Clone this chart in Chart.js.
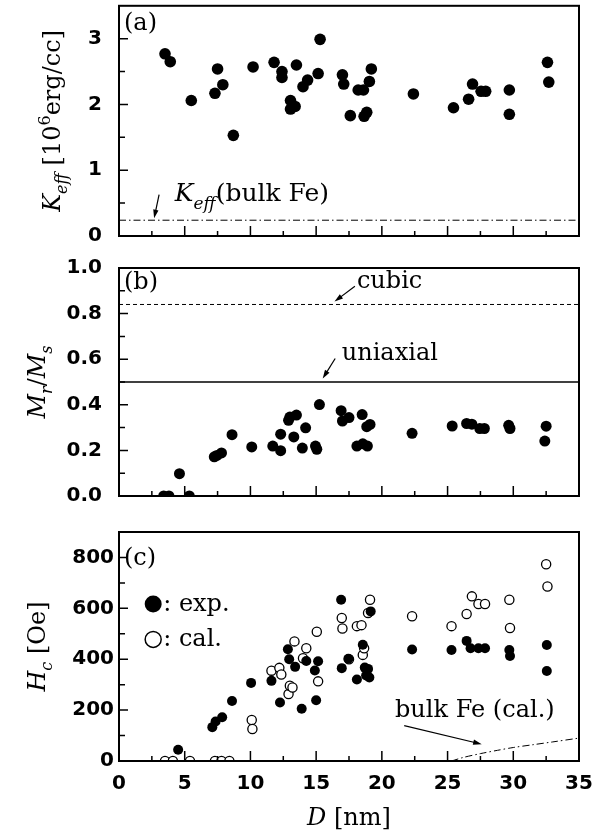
<!DOCTYPE html>
<html>
<head>
<meta charset="utf-8">
<script src="https://cdn.jsdelivr.net/npm/chart.js@4.4.1/dist/chart.umd.min.js"></script>
<style>
  html, body { margin: 0; padding: 0; background: #fff; }
  body { position: relative; width: 603px; height: 833px; overflow: hidden; }
  canvas { position: absolute; left: 0; display: block; }
</style>
</head>
<body>
<canvas id="chartA" width="603" height="250" style="top:0px;width:603px;height:250px"></canvas>
<canvas id="chartB" width="603" height="250" style="top:255px;width:603px;height:250px"></canvas>
<canvas id="chartC" width="603" height="313" style="top:520px;width:603px;height:313px"></canvas>
<script>
// particle size D [nm] shared x axis
const xTicks = [0, 5, 10, 15, 20, 25, 30, 35];

// (a) effective anisotropy
const sizeA = [3.5, 3.9, 5.5, 7.3, 7.5, 7.9, 8.7, 10.2, 11.8, 12.4, 12.4, 13.05, 13.05, 13.4, 13.5, 14.0, 14.35, 15.15, 15.3,
  17.0, 17.1, 17.6, 18.2, 18.6, 18.65, 18.85, 19.05, 19.2, 22.4, 25.45, 26.6, 26.9, 27.55, 27.9, 29.7, 29.7, 32.6, 32.7];
const keff = [2.77, 2.65, 2.06, 2.17, 2.54, 2.30, 1.53, 2.57, 2.64, 2.50, 2.41, 2.06, 1.93, 1.97, 2.60, 2.27, 2.37, 2.47, 2.99,
  2.45, 2.31, 1.83, 2.22, 2.22, 1.82, 1.88, 2.35, 2.54, 2.16, 1.95, 2.08, 2.31, 2.20, 2.20, 2.22, 1.85, 2.64, 2.34];
const keffBulk = 0.24;
const yTicksA = [0, 1, 2, 3];

// (b) remanence ratio
const sizeB = [3.4, 3.8, 4.6, 5.35, 7.25, 7.45, 7.8, 8.6, 10.1, 11.7, 12.3, 12.3, 12.9, 13.0, 13.5, 13.3, 13.95, 14.2, 14.95, 15.05, 15.25,
  16.9, 17.0, 17.5, 18.5, 18.1, 18.55, 18.9, 18.85, 19.1, 22.3, 25.35, 26.45, 26.85, 27.45, 27.8, 29.65, 29.75, 32.5, 32.4];
const mrms = [0, 0, 0.098, 0, 0.172, 0.178, 0.189, 0.269, 0.215, 0.219, 0.199, 0.271, 0.332, 0.346, 0.355, 0.259, 0.210, 0.299, 0.219, 0.205, 0.401,
  0.374, 0.329, 0.344, 0.357, 0.219, 0.229, 0.219, 0.304, 0.314, 0.275, 0.307, 0.318, 0.315, 0.296, 0.296, 0.310, 0.296, 0.306, 0.241];
const cubicRatio = 0.84;
const uniaxialRatio = 0.5;
const yTicksB = [0, 0.2, 0.4, 0.6, 0.8, 1.0];

// (c) coercivity, experiment and calculation
const sizeExp = [4.5, 7.1, 7.35, 7.85, 8.6, 10.05, 11.6, 12.25, 12.85, 12.95, 13.4, 13.9, 14.25, 14.9, 15.15, 15.0, 16.9, 16.95,
  17.45, 18.1, 18.55, 18.7, 18.8, 18.95, 19.05, 19.15, 22.3, 25.3, 26.45, 26.75, 27.35, 27.85, 29.7, 29.75, 32.55, 32.55];
const hcExp = [44, 133, 155, 172, 236, 307, 315, 230, 439, 400, 370, 205, 393, 356, 392, 239, 634, 365,
  402, 320, 457, 367, 336, 362, 328, 588, 438, 436, 472, 443, 443, 443, 436, 413, 456, 354];
const sizeCal = [3.5, 4.1, 5.4, 7.3, 7.8, 8.4, 10.1, 10.15, 11.6, 12.2, 12.35, 12.9, 13.0, 13.2, 13.35, 14.0, 14.25, 15.05, 15.15,
  16.95, 17.0, 17.5, 18.1, 18.45, 18.55, 18.65, 18.95, 19.1, 22.3, 25.3, 26.45, 26.85, 27.35, 27.85, 29.7, 29.75, 32.5, 32.6];
const hcCal = [0, 0, 0, 0, 0, 0, 161, 126, 355, 366, 340, 263, 296, 289, 470, 404, 443, 508, 313,
  562, 521, 400, 530, 534, 417, 443, 582, 634, 569, 530, 578, 647, 617, 617, 634, 523, 773, 686];
const sizeBulkFe = [25.3, 26.2, 27.5, 28.8, 30.0, 31.5, 33.0, 35.0];
const hcBulkFe = [0, 14, 29, 42, 53, 64, 75, 90];
const yTicksC = [0, 200, 400, 600, 800];

const tickFont = { family: '"DejaVu Sans", sans-serif', size: 20, weight: 'bold' };
const SERIF = '"DejaVu Serif", serif';

function points(xs, ys) {
  return xs.map((x, i) => ({ x: x, y: ys[i] }));
}

// draws a run of text pieces; italic / subscript / superscript per piece
function richText(ctx, parts, x, y, size, center) {
  let w = 0;
  const info = parts.map((p) => {
    const s = p.sub || p.sup ? Math.round(size * 0.68) : size;
    const font = (p.it ? "italic " : "") + s + "px " + SERIF;
    ctx.font = font;
    const pw = ctx.measureText(p.t).width;
    w += pw;
    return { font, pw, dy: p.sub ? size * 0.3 : p.sup ? -size * 0.42 : 0 };
  });
  let cx = center ? x - w / 2 : x;
  ctx.textAlign = "left";
  ctx.textBaseline = "alphabetic";
  parts.forEach((p, i) => {
    ctx.font = info[i].font;
    ctx.fillText(p.t, cx, y + info[i].dy);
    cx += info[i].pw;
  });
}

function arrow(ctx, x1, y1, x2, y2) {
  const ang = Math.atan2(y2 - y1, x2 - x1);
  const h = 9;
  ctx.beginPath();
  ctx.moveTo(x1, y1);
  ctx.lineTo(x2 - 4 * Math.cos(ang), y2 - 4 * Math.sin(ang));
  ctx.stroke();
  ctx.beginPath();
  ctx.moveTo(x2, y2);
  ctx.lineTo(x2 - h * Math.cos(ang - 0.3), y2 - h * Math.sin(ang - 0.3));
  ctx.lineTo(x2 - h * Math.cos(ang + 0.3), y2 - h * Math.sin(ang + 0.3));
  ctx.closePath();
  ctx.fill();
}

function yTitle(ctx, parts, bx, cy) {
  ctx.save();
  ctx.translate(bx, cy);
  ctx.rotate(-Math.PI / 2);
  richText(ctx, parts, 0, 0, 24, true);
  ctx.restore();
}

// box and inward tick marks
const frame = {
  id: "frame",
  afterDraw(chart, args, opts) {
    const { ctx, chartArea: a, scales: { x, y } } = chart;
    ctx.save();
    ctx.strokeStyle = "#000";
    ctx.lineWidth = 1.5;
    ctx.beginPath();
    for (let v = 2.5; v < 35; v += 2.5) {
      const px = x.getPixelForValue(v);
      const len = v % 5 === 0 ? 10 : 5;
      ctx.moveTo(px, a.bottom);
      ctx.lineTo(px, a.bottom - len);
    }
    for (let k = 1; k * opts.minor < y.max - 1e-9; k++) {
      const v = k * opts.minor;
      const py = y.getPixelForValue(v);
      const major = Math.abs(v / opts.major - Math.round(v / opts.major)) < 1e-6;
      ctx.moveTo(a.left, py);
      ctx.lineTo(a.left + (major ? 9 : 6), py);
    }
    ctx.stroke();
    ctx.lineWidth = 2;
    ctx.strokeRect(a.left, a.top, a.right - a.left, a.bottom - a.top);
    ctx.restore();
  },
};

function yScale(min, max, ticks, fmt, pad) {
  return {
    type: "linear",
    min: min,
    max: max,
    afterBuildTicks: (s) => { s.ticks = ticks.map((v) => ({ value: v })); },
    afterFit: (s) => {
      s.width = 119;
      s.paddingTop = 0; s.paddingBottom = 0; s.paddingLeft = 0; s.paddingRight = 0;
    },
    grid: { display: false, drawTicks: false },
    border: { display: false },
    ticks: { font: tickFont, color: "#000", padding: pad, autoSkip: false, callback: fmt },
  };
}

function xScale(show) {
  return {
    type: "linear",
    min: 0,
    max: 35,
    display: show,
    afterBuildTicks: (s) => { s.ticks = xTicks.map((v) => ({ value: v })); },
    afterFit: (s) => {
      s.height = show ? 72 : 0;
      s.paddingTop = 0; s.paddingBottom = 0; s.paddingLeft = 0; s.paddingRight = 0;
    },
    grid: { display: false, drawTicks: false },
    border: { display: false },
    ticks: { font: tickFont, color: "#000", padding: 11, autoSkip: false, maxRotation: 0 },
  };
}

function baseOptions(pad, yOpts, showX, minor, major) {
  return {
    responsive: false,
    animation: false,
    devicePixelRatio: 1,
    layout: { padding: pad },
    scales: { x: xScale(showX), y: yOpts },
    plugins: { legend: { display: false }, tooltip: { enabled: false }, frame: { minor: minor, major: major } },
  };
}

function flatLine(value, dash, width) {
  return {
    type: "line",
    data: [{ x: 0, y: value }, { x: 35, y: value }],
    borderColor: "#000",
    borderWidth: width,
    borderDash: dash,
    pointRadius: 0,
    showLine: true,
    clip: 0,
  };
}

// panel (a)
new Chart(document.getElementById("chartA"), {
  type: "scatter",
  data: {
    datasets: [
      flatLine(keffBulk, [7, 3, 1.5, 3], 1),
      { data: points(sizeA, keff), pointRadius: 5.8, pointBackgroundColor: "#000", pointBorderWidth: 0, clip: 0 },
    ],
  },
  options: baseOptions({ left: 0, right: 24, top: 5, bottom: 14 },
    yScale(0, 3.5, yTicksA, (v) => String(v), 17), false, 0.5, 1),
  plugins: [frame, {
    id: "textA",
    afterDraw(chart) {
      const { ctx, chartArea: a, scales: { x, y } } = chart;
      ctx.save();
      ctx.fillStyle = "#000";
      ctx.strokeStyle = "#000";
      ctx.lineWidth = 1.2;
      richText(ctx, [{ t: "(a)" }], a.left + 5, a.top + 24, 24);
      richText(ctx, [{ t: "K", it: true }, { t: "eff", it: true, sub: true }, { t: "(bulk Fe)" }],
        x.getPixelForValue(4.25), y.getPixelForValue(0.53), 25);
      arrow(ctx, x.getPixelForValue(3.05), y.getPixelForValue(0.63), x.getPixelForValue(2.67), y.getPixelForValue(keffBulk + 0.03));
      yTitle(ctx, [{ t: "K", it: true }, { t: "eff", it: true, sub: true }, { t: " [10" }, { t: "6", sup: true }, { t: "erg/cc]" }],
        60, (a.top + a.bottom) / 2);
      ctx.restore();
    },
  }],
});

// panel (b)
new Chart(document.getElementById("chartB"), {
  type: "scatter",
  data: {
    datasets: [
      flatLine(cubicRatio, [4, 3], 1),
      flatLine(uniaxialRatio, [], 1.3),
      { data: points(sizeB, mrms), pointRadius: 5.5, pointBackgroundColor: "#000", pointBorderWidth: 0, clip: 0 },
    ],
  },
  options: baseOptions({ left: 0, right: 24, top: 13, bottom: 9 },
    yScale(0, 1.0, yTicksB, (v) => v.toFixed(1), 17), false, 0.1, 0.2),
  plugins: [frame, {
    id: "textB",
    afterDraw(chart) {
      const { ctx, chartArea: a, scales: { x, y } } = chart;
      ctx.save();
      ctx.fillStyle = "#000";
      ctx.strokeStyle = "#000";
      ctx.lineWidth = 1.2;
      richText(ctx, [{ t: "(b)" }], a.left + 5, a.top + 21, 24);
      richText(ctx, [{ t: "cubic" }], x.getPixelForValue(18.1), y.getPixelForValue(0.912), 24);
      arrow(ctx, x.getPixelForValue(17.95), y.getPixelForValue(0.92), x.getPixelForValue(16.4), y.getPixelForValue(0.853));
      richText(ctx, [{ t: "uniaxial" }], x.getPixelForValue(16.95), y.getPixelForValue(0.595), 24);
      arrow(ctx, x.getPixelForValue(16.45), y.getPixelForValue(0.603), x.getPixelForValue(15.5), y.getPixelForValue(0.515));
      yTitle(ctx, [{ t: "M", it: true }, { t: "r", it: true, sub: true }, { t: "/" }, { t: "M", it: true }, { t: "s", it: true, sub: true }],
        45, (a.top + a.bottom) / 2);
      ctx.restore();
    },
  }],
});

// panel (c)
new Chart(document.getElementById("chartC"), {
  type: "scatter",
  data: {
    datasets: [
      {
        type: "line",
        data: points(sizeBulkFe, hcBulkFe),
        borderColor: "#000",
        borderWidth: 1,
        borderDash: [7, 3, 1.5, 3],
        pointRadius: 0,
        showLine: true,
        tension: 0.3,
        clip: 0,
      },
      { data: points(sizeExp, hcExp), pointRadius: 5, pointBackgroundColor: "#000", pointBorderWidth: 0, clip: 0 },
      { data: points(sizeCal, hcCal), pointRadius: 4.6, pointBackgroundColor: "#fff", pointBorderColor: "#000", pointBorderWidth: 1.3, clip: 0 },
    ],
  },
  options: baseOptions({ left: 0, right: 24, top: 12, bottom: 0 },
    yScale(0, 900, yTicksC, (v) => String(v), 5), true, 100, 200),
  plugins: [frame, {
    id: "textC",
    afterDraw(chart) {
      const { ctx, chartArea: a, scales: { x, y } } = chart;
      ctx.save();
      ctx.fillStyle = "#000";
      ctx.strokeStyle = "#000";
      ctx.lineWidth = 1.2;
      richText(ctx, [{ t: "(c)" }], a.left + 5, a.top + 33, 24);
      // legend
      const lx = x.getPixelForValue(2.6);
      ctx.beginPath();
      ctx.arc(lx, y.getPixelForValue(617), 8.5, 0, Math.PI * 2);
      ctx.fill();
      ctx.beginPath();
      ctx.lineWidth = 1.5;
      ctx.arc(lx, y.getPixelForValue(478), 8, 0, Math.PI * 2);
      ctx.stroke();
      ctx.lineWidth = 1.2;
      richText(ctx, [{ t: ": exp." }], lx + 10, y.getPixelForValue(589), 24);
      richText(ctx, [{ t: ": cal." }], lx + 10, y.getPixelForValue(452), 24);
      richText(ctx, [{ t: "bulk Fe (cal.)" }], x.getPixelForValue(21.0), y.getPixelForValue(172), 24);
      arrow(ctx, x.getPixelForValue(21.7), y.getPixelForValue(139), x.getPixelForValue(27.6), y.getPixelForValue(66));
      yTitle(ctx, [{ t: "H", it: true }, { t: "c", it: true, sub: true }, { t: " [Oe]" }], 45, (a.top + a.bottom) / 2);
      richText(ctx, [{ t: "D", it: true }, { t: " [nm]" }], (a.left + a.right) / 2, 305, 24, true);
      ctx.restore();
    },
  }],
});
</script>
</body>
</html>
